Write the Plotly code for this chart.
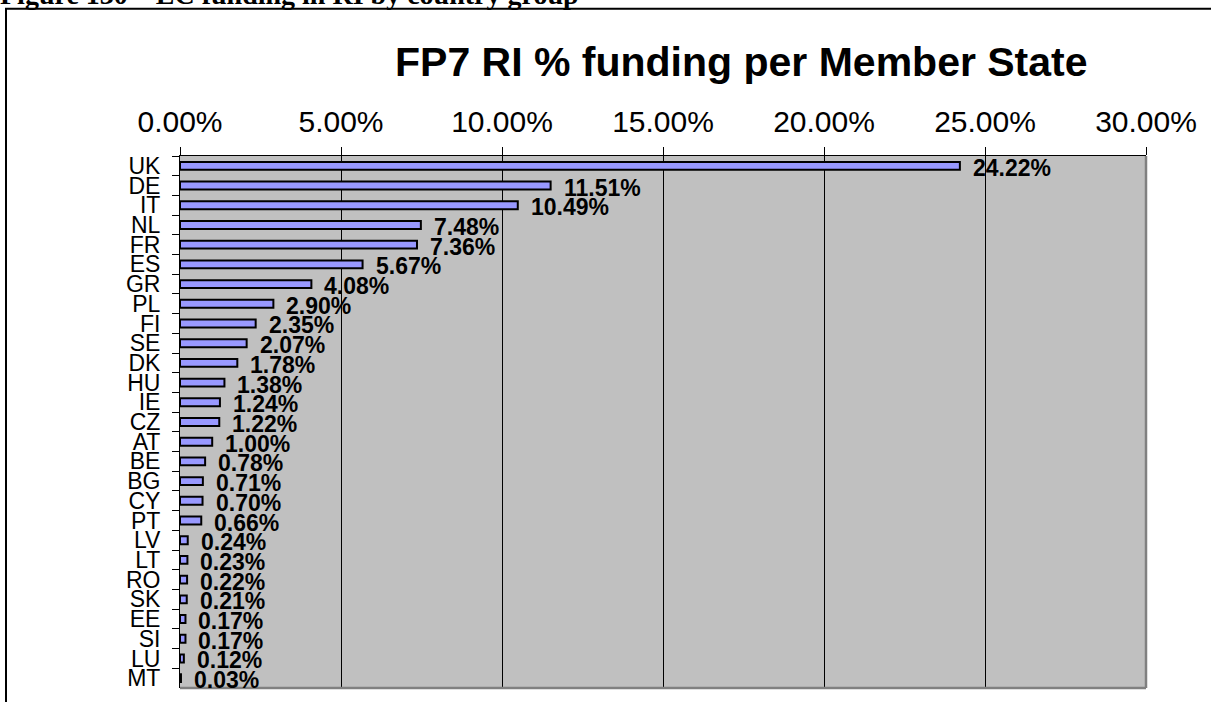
import plotly.graph_objects as go

# FP7 Research Infrastructures: share of EC funding per Member State (%)
countries = ["UK", "DE", "IT", "NL", "FR", "ES", "GR", "PL", "FI", "SE", "DK", "HU", "IE", "CZ",
             "AT", "BE", "BG", "CY", "PT", "LV", "LT", "RO", "SK", "EE", "SI", "LU", "MT"]
shares = [24.22, 11.51, 10.49, 7.48, 7.36, 5.67, 4.08, 2.90, 2.35, 2.07, 1.78, 1.38, 1.24, 1.22,
          1.00, 0.78, 0.71, 0.70, 0.66, 0.24, 0.23, 0.22, 0.21, 0.17, 0.17, 0.12, 0.03]
x_ticks = [0, 5, 10, 15, 20, 25, 30]
x_tick_labels = ["0.00%", "5.00%", "10.00%", "15.00%", "20.00%", "25.00%", "30.00%"]

W, H = 1211, 702
L, R, T, B = 180, 65, 156, 11
plot_w = W - L - R
plot_h = H - T - B


def px_x(px):
    return (px - L) / plot_w


def px_y(py):
    return (H - B - py) / plot_h


fig = go.Figure()
fig.add_trace(go.Bar(
    x=shares,
    y=countries,
    orientation="h",
    width=0.4,
    marker=dict(color="#9999FF", line=dict(color="#000000", width=2)),
    hoverinfo="x+y",
))

annotations = []
# value labels at the end of each bar
for c, v in zip(countries, shares):
    annotations.append(dict(
        x=v, y=c, xref="x", yref="y",
        text=f"<b>{v:.2f}%</b>", showarrow=False,
        xanchor="left", yanchor="middle", xshift=11, yshift=-2,
        font=dict(family="Liberation Sans, Arial, sans-serif", size=23, color="#000000"),
    ))
annotations.append(dict(
    x=px_x(741), y=px_y(61), xref="paper", yref="paper",
    text="<b>FP7 RI % funding per Member State</b>", showarrow=False,
    xanchor="center", yanchor="middle",
    font=dict(family="Liberation Sans, Arial, sans-serif", size=41, color="#000000"),
))
annotations.append(dict(
    x=px_x(-2), y=px_y(11), xref="paper", yref="paper",
    text="<b>Figure 130 – EC funding in RI by country group</b>", showarrow=False,
    xanchor="left", yanchor="bottom",
    font=dict(family="Liberation Serif, Times New Roman, serif", size=28, color="#000000"),
))

shapes = [
    # outer frame around the chart
    dict(type="rect", xref="paper", yref="paper",
         x0=px_x(6), x1=px_x(1230), y0=px_y(720), y1=px_y(8),
         line=dict(color="#000000", width=2), fillcolor="rgba(0,0,0,0)", layer="above"),
    # right and bottom plot-area borders
    dict(type="line", xref="paper", yref="paper", x0=1, x1=1, y0=0, y1=1,
         line=dict(color="#808080", width=2.5), layer="above"),
    dict(type="line", xref="paper", yref="paper", x0=0, x1=1, y0=0, y1=0,
         line=dict(color="#808080", width=2.5), layer="above"),
]

fig.update_layout(
    width=W, height=H,
    margin=dict(l=L, r=R, t=T, b=B, pad=0),
    paper_bgcolor="#FFFFFF",
    plot_bgcolor="#C0C0C0",
    showlegend=False,
    annotations=annotations,
    shapes=shapes,
    bargap=0.6,
    xaxis=dict(
        side="top",
        range=[0, 30],
        tickvals=x_ticks,
        ticktext=x_tick_labels,
        ticks="outside", ticklen=8, tickwidth=1, tickcolor="#000000",
        showgrid=True, gridcolor="#000000", gridwidth=1,
        showline=True, linecolor="#000000", linewidth=1,
        zeroline=False,
        tickfont=dict(family="Liberation Sans, Arial, sans-serif", size=30, color="#000000"),
        ticklabelstandoff=3,
    ),
    yaxis=dict(
        type="category",
        categoryorder="array", categoryarray=countries,
        range=[len(countries) - 0.5, -0.5],
        tickmode="linear", tick0=0, dtick=1,
        tickson="boundaries",
        ticks="outside", ticklen=7, tickwidth=1, tickcolor="#000000",
        showgrid=False,
        showline=True, linecolor="#000000", linewidth=1,
        zeroline=False,
        tickfont=dict(family="Liberation Sans, Arial, sans-serif", size=23, color="#000000"),
        ticklabelstandoff=14,
    ),
)

fig.write_html("out.html")
